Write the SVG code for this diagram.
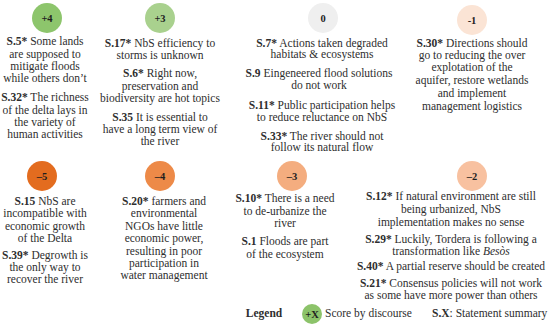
<svg xmlns="http://www.w3.org/2000/svg" width="550" height="327" viewBox="0 0 550 327">
<style>
text{font-family:"Liberation Serif","Times New Roman",serif;font-size:11.5px;fill:#2e2e2e;text-anchor:middle}
.b{font-weight:bold}
.sc{font-weight:bold;font-size:10.5px;fill:#1e1e1e}
.i{font-style:italic}
</style>
<rect width="550" height="327" fill="#ffffff"/>
<g id="score-p4">
<circle cx="47" cy="18" r="15" fill="#8dc56c"/>
<text class="sc" x="47" y="22">+4</text>
<text x="45" y="45"><tspan class="b">S.5*</tspan> Some lands</text>
<text x="45" y="57.5">are supposed to</text>
<text x="45" y="70">mitigate  floods</text>
<text x="45" y="82">while others don’t</text>
<text x="45" y="101"><tspan class="b">S.32*</tspan> The richness</text>
<text x="45" y="113.5">of the delta lays in</text>
<text x="45" y="126">the variety  of</text>
<text x="45" y="138">human activities</text>
</g>
<g id="score-p3">
<circle cx="160" cy="18" r="15" fill="#a9d18e"/>
<text class="sc" x="160" y="22">+3</text>
<text x="160" y="47"><tspan class="b">S.17*</tspan> NbS efficiency to</text>
<text x="160" y="59">storms is unknown</text>
<text x="160" y="77"><tspan class="b">S.6*</tspan> Right now,</text>
<text x="160" y="90">preservation  and</text>
<text x="160" y="102">biodiversity  are hot topics</text>
<text x="160" y="121"><tspan class="b">S.35</tspan> It is essential to</text>
<text x="160" y="133">have a long term view  of</text>
<text x="160" y="145">the river</text>
</g>
<g id="score-0">
<circle cx="323" cy="18" r="15" fill="#efefef"/>
<text class="sc" x="323" y="22">0</text>
<text x="322" y="47"><tspan class="b">S.7*</tspan> Actions taken degraded</text>
<text x="322" y="58">habitats &amp; ecosystems</text>
<text x="319" y="77"><tspan class="b">S.9</tspan> Eingeneered flood  solutions</text>
<text x="319" y="89">do not work</text>
<text x="322" y="109"><tspan class="b">S.11*</tspan> Public participation  helps</text>
<text x="322" y="121">to reduce reluctance on NbS</text>
<text x="322" y="140"><tspan class="b">S.33*</tspan> The river should  not</text>
<text x="322" y="151">follow  its natural flow</text>
</g>
<g id="score-m1">
<circle cx="472" cy="20" r="15" fill="#fbe4d5"/>
<text class="sc" x="472" y="24">-1</text>
<text x="472" y="47"><tspan class="b">S.30*</tspan> Directions should</text>
<text x="472" y="59">go to reducing  the over</text>
<text x="472" y="71">explotation of the</text>
<text x="472" y="84">aquifer, restore wetlands</text>
<text x="472" y="97">and implement</text>
<text x="472" y="110">management logistics</text>
</g>
<g id="score-m5">
<circle cx="42" cy="176" r="15" fill="#e36c1f"/>
<text class="sc" x="42" y="180">–5</text>
<text x="45" y="205"><tspan class="b">S.15</tspan> NbS are</text>
<text x="45" y="217">incompatible  with</text>
<text x="45" y="229.5">economic growth</text>
<text x="45" y="242">of the Delta</text>
<text x="45" y="259"><tspan class="b">S.39*</tspan> Degrowth is</text>
<text x="45" y="271">the only  way to</text>
<text x="45" y="283">recover the river</text>
</g>
<g id="score-m4">
<circle cx="160" cy="176" r="15" fill="#ed8a48"/>
<text class="sc" x="160" y="180">–4</text>
<text x="164" y="205"><tspan class="b">S.20*</tspan> farmers and</text>
<text x="164" y="217">environmental</text>
<text x="164" y="229.5">NGOs have little</text>
<text x="164" y="242">economic power,</text>
<text x="164" y="254.5">resulting in poor</text>
<text x="164" y="267">participation  in</text>
<text x="164" y="279">water management</text>
</g>
<g id="score-m3">
<circle cx="292" cy="176" r="15" fill="#f4ad7f"/>
<text class="sc" x="292" y="180">–3</text>
<text x="285" y="202"><tspan class="b">S.10*</tspan> There is a need</text>
<text x="285" y="215">to de-urbanize the</text>
<text x="285" y="227">river</text>
<text x="285" y="245"><tspan class="b">S.1</tspan> Floods are part</text>
<text x="285" y="258">of the ecosystem</text>
</g>
<g id="score-m2">
<circle cx="472" cy="176" r="15" fill="#f8c1a0"/>
<text class="sc" x="472" y="180">–2</text>
<text x="451" y="200"><tspan class="b">S.12*</tspan> If natural environment  are still</text>
<text x="451" y="213">being urbanized,  NbS</text>
<text x="451" y="226">implementation  makes no sense</text>
<text x="451" y="243"><tspan class="b">S.29*</tspan> Luckily,  Tordera is following  a</text>
<text x="451" y="255">transformation like <tspan class="i">Besòs</tspan></text>
<text x="451" y="270"><tspan class="b">S.40*</tspan> A partial  reserve should  be created</text>
<text x="451" y="287"><tspan class="b">S.21*</tspan> Consensus policies  will  not work</text>
<text x="451" y="299">as some have more power than others</text>
</g>
<g id="legend">
<text class="b" x="264" y="317">Legend</text>
<circle cx="312" cy="314" r="10" fill="#8cc36a"/>
<text class="sc" x="312" y="318">+X</text>
<text x="325" y="317" style="text-anchor:start">Score by discourse</text>
<text x="432" y="317" style="text-anchor:start"><tspan class="b">S.X</tspan>: Statement summary</text>
</g>
</svg>
